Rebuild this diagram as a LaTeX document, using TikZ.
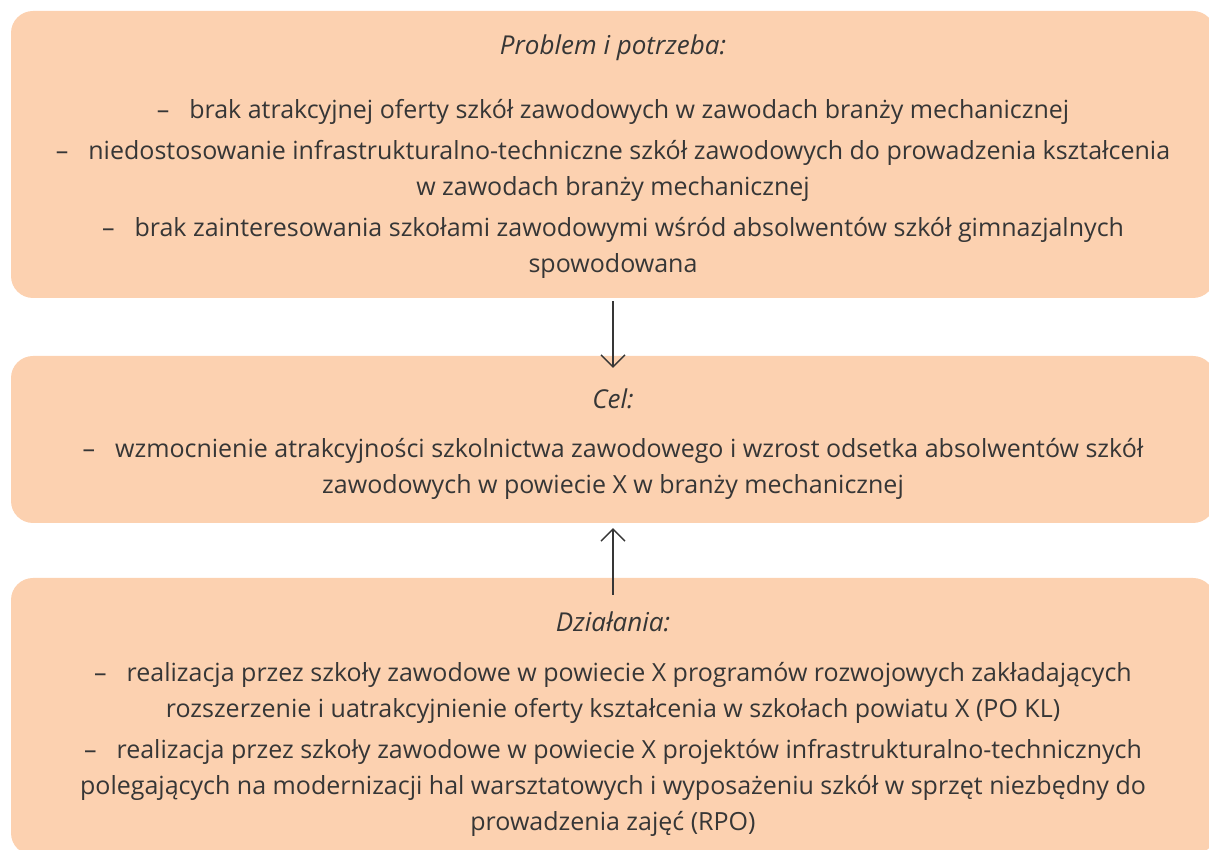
\documentclass[tikz,border=0pt]{standalone}
\usepackage{fontspec}
\setmainfont{Open Sans}
\usepackage{xcolor}
\usepackage{tikz}
\usetikzlibrary{arrows.meta, positioning}
\definecolor{peach}{HTML}{FCD1B0}
\definecolor{ink}{HTML}{363636}
\tikzstyle{box} = [rectangle, rounded corners=22pt, minimum width=1204pt, inner sep=0pt, fill=peach, draw=none]
\tikzstyle{head} = [font=\fontsize{26}{36}\selectfont\itshape, text=ink]
\tikzstyle{body} = [font=\fontsize{25}{36}\selectfont, text=ink, align=center]
\tikzstyle{arrow} = [line width=1.3pt, draw=ink, -{Straight Barb[length=12pt, width=24pt]}]
\newcommand{\kreska}{--\hspace{20pt}}

\begin{document}
\begin{tikzpicture}[x=1pt, y=1pt]
        \useasboundingbox (0,0) rectangle (1209,850);

        % Boxes
        \node (problem) [box, minimum height=287pt] at (613,695.5) {};
        \node (cel) [box, minimum height=167pt] at (613,410.5) {};
        \node (dzialania) [box, minimum height=277pt] at (613,133.5) {};

        % Headings
        \node (problemhead) [head] at (613,802) {Problem i potrzeba:};
        \node (celhead) [head] at (613,451) {Cel:};
        \node (dzialaniahead) [head] at (613,228) {Działania:};

        % Texts
        \node (problemtext) [body] at (613,661.5) {\kreska brak atrakcyjnej oferty szkół zawodowych w zawodach branży mechanicznej\\[5pt]
            \kreska niedostosowanie infrastrukturalno-techniczne szkół zawodowych do prowadzenia kształcenia\\
            w zawodach branży mechanicznej\\[5pt]
            \kreska brak zainteresowania szkołami zawodowymi wśród absolwentów szkół gimnazjalnych\\
            spowodowana};
        \node (celtext) [body] at (613,381) {\kreska wzmocnienie atrakcyjności szkolnictwa zawodowego i wzrost odsetka absolwentów szkół\\
            zawodowych w powiecie X w branży mechanicznej};
        \node (dzialaniatext) [body] at (613,101) {\kreska realizacja przez szkoły zawodowe w powiecie X programów rozwojowych zakładających\\
            rozszerzenie i uatrakcyjnienie oferty kształcenia w szkołach powiatu X (PO KL)\\[5pt]
            \kreska realizacja przez szkoły zawodowe w powiecie X projektów infrastrukturalno-technicznych\\
            polegających na modernizacji hal warsztatowych i wyposażeniu szkół w sprzęt niezbędny do\\
            prowadzenia zajęć (RPO)};

        % Arrows
        \draw [arrow] ([yshift=-3pt]problem.south) -- ([yshift=-12pt]cel.north);
        \draw [arrow] ([yshift=-17pt]dzialania.north) -- ([yshift=-5pt]cel.south);
\end{tikzpicture}
\end{document}
